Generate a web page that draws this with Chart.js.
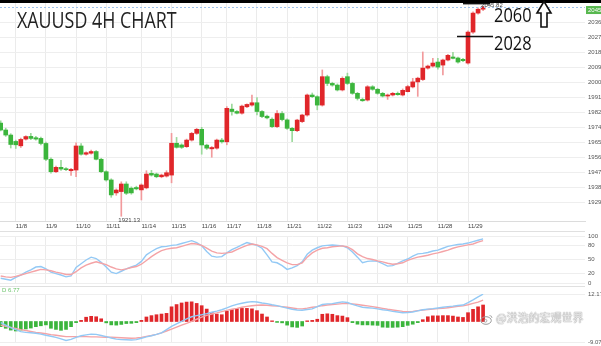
<!DOCTYPE html>
<html>
<head>
<meta charset="utf-8">
<script src="https://cdn.jsdelivr.net/npm/chart.js@4.4.0/dist/chart.umd.min.js"></script>
<style>
  html, body { margin: 0; padding: 0; background: #fff; }
  #wrap { position: relative; width: 601px; height: 346px; overflow: hidden; background: #fff; }
  canvas { position: absolute; left: 0; }
  #topbar { position: absolute; left: 0; top: 0; width: 601px; height: 3px; background: #000; }
  .sep { position: absolute; left: 0; width: 585px; height: 1px; background: #e0e0e0; }
  .big { position: absolute; font-family: 'Open Sans'; line-height: 1; white-space: nowrap; transform-origin: 0 0; }
  #title { left: 17px; top: 9.7px; font-size: 21px; color: #222; transform: scaleX(0.85); }
  #t2060 { left: 494px; top: 4.8px; font-size: 20px; color: #111; transform: scaleX(0.82); }
  #t2028 { left: 494px; top: 33.2px; font-size: 20px; color: #111; transform: scaleX(0.82); }
  #dval { position: absolute; left: 2px; top: 287px; font: 6px 'Liberation Sans'; color: #6cc46c; white-space: nowrap; }
  #wm { position: absolute; left: 480px; top: 309px; white-space: nowrap; font-size: 11px;
        font-family: 'Noto Sans CJK SC'; color: rgba(255,255,255,0.85);
        text-shadow: 0 0 1px #8a8a8a, 0 0 1px #8a8a8a; line-height: 16px; }
  #wm svg { vertical-align: -3px; margin-right: 3px; }
</style>
</head>
<body>
<div id="wrap">
  <canvas id="price" width="601" height="232" style="top:0"></canvas>
  <canvas id="stoch" width="601" height="54" style="top:232px"></canvas>
  <canvas id="macd" width="601" height="60" style="top:286px"></canvas>
  <div id="topbar"></div>
  <div class="sep" style="top:231px"></div>
  <div class="sep" style="top:286px"></div>
  <div id="title" class="big">XAUUSD 4H CHART</div>
  <div id="t2060" class="big">2060</div>
  <div id="t2028" class="big">2028</div>
  <svg style="position:absolute;left:535px;top:0" width="18" height="30">
    <polygon points="9,1.5 2,13 6,13 6,27 12,27 12,13 16,13" fill="#fff" stroke="#111" stroke-width="1.6" stroke-linejoin="miter"/>
  </svg>
  <div id="dval">D 6.77</div>
  <div id="wm"><svg width="13" height="11" viewBox="0 0 13 11"><ellipse cx="6" cy="6.5" rx="5.3" ry="3.8" fill="none" stroke="#9a9a9a" stroke-width="1"/><circle cx="5.5" cy="6.8" r="1.4" fill="none" stroke="#9a9a9a" stroke-width="0.8"/><path d="M9.5 1.5 a2.5 2.5 0 0 1 2.5 2.5" fill="none" stroke="#9a9a9a" stroke-width="0.8"/></svg>@洪浩的宏观世界</div>
</div>
<script>
// ---- 4-hour candles, XAUUSD ----
const open = [1976.5,1972.4,1969.4,1965.6,1963.0,1967.0,1968.6,1967.8,1967.4,1964.4,
  1955.0,1947.6,1950.2,1949.4,1948.2,1948.6,1962.9,1958.0,1958.6,1959.6,
  1955.0,1947.6,1942.7,1935.0,1935.8,1940.3,1937.8,1938.2,1936.8,1938.0,
  1946.6,1946.2,1944.6,1945.0,1945.6,1964.5,1963.5,1962.5,1966.4,1970.4,
  1972.8,1963.4,1961.2,1961.6,1966.4,1965.4,1984.8,1983.4,1982.4,1986.2,
  1987.2,1988.6,1983.4,1980.6,1978.8,1974.4,1982.2,1978.4,1973.4,1972.0,
  1977.4,1981.3,1993.2,1992.2,1987.2,2004.1,2000.1,1999.1,1996.2,2004.1,
  2000.1,1994.2,1990.6,1990.2,1998.1,1996.6,1994.2,1992.6,1993.2,1994.2,
  1993.2,1995.2,1998.0,2001.0,2002.4,2009.2,2010.4,2012.8,2011.0,2014.0,
  2015.8,2015.2,2014.4,2012.2,2030.6,2041.9,2044.2];
const high = [1977.8,1973.5,1970.2,1966.4,1967.6,1969.0,1970.4,1968.6,1968.2,1965.2,
  1955.8,1951.0,1954.4,1950.0,1949.6,1964.8,1964.4,1959.4,1960.4,1960.2,
  1955.6,1948.2,1943.4,1937.4,1941.6,1941.6,1938.6,1939.0,1940.4,1948.2,
  1948.4,1946.8,1946.2,1948.2,1970.4,1968.0,1964.2,1967.0,1971.0,1973.4,
  1974.0,1964.0,1962.6,1967.0,1967.4,1986.3,1987.8,1984.0,1987.2,1988.0,
  1993.2,1991.6,1984.0,1981.2,1979.6,1984.0,1983.4,1979.0,1974.0,1978.8,
  1981.8,1993.8,1994.4,1992.8,2008.1,2005.0,2000.8,1999.8,2004.0,2006.2,
  2000.8,1994.8,1991.4,1998.8,1998.8,1997.2,1994.8,1993.8,1994.8,1995.0,
  1996.8,1999.0,2003.1,2003.8,2018.8,2011.0,2015.0,2015.0,2014.6,2017.4,
  2018.6,2015.8,2015.0,2031.4,2042.6,2045.0,2045.82];
const low = [1971.8,1968.6,1961.7,1961.4,1962.0,1966.4,1966.6,1966.4,1963.6,1954.2,
  1946.8,1947.0,1948.4,1948.2,1945.4,1944.6,1957.4,1957.4,1958.0,1954.6,
  1947.0,1942.0,1932.4,1933.6,1921.13,1934.0,1934.2,1936.8,1930.8,1937.4,
  1945.0,1944.0,1944.0,1944.4,1941.0,1961.6,1961.4,1962.0,1965.8,1969.8,
  1958.0,1960.8,1956.2,1961.0,1964.6,1963.6,1981.2,1982.0,1981.8,1985.6,
  1986.6,1981.4,1979.8,1979.0,1973.8,1973.8,1977.8,1972.8,1965.4,1971.4,
  1976.8,1980.6,1991.6,1984.4,1986.6,1998.8,1998.4,1995.6,1995.6,1999.4,
  1993.6,1990.2,1989.4,1989.6,1996.0,1993.6,1992.0,1990.6,1992.6,1993.0,
  1992.6,1995.0,1997.4,1992.4,2001.8,2008.6,2009.8,2008.6,2005.2,2013.4,
  2014.6,2012.2,2013.0,2011.6,2029.8,2041.2,2043.4];
const close = [1972.4,1969.4,1963.8,1963.6,1966.8,1968.5,1967.4,1967.0,1964.4,1955.0,
  1947.6,1950.2,1949.2,1948.8,1949.0,1962.9,1958.0,1958.9,1959.6,1955.0,
  1947.6,1942.7,1933.8,1936.7,1940.3,1934.8,1935.0,1937.4,1939.7,1946.2,
  1945.6,1944.6,1945.6,1947.0,1964.5,1962.1,1962.1,1966.4,1970.4,1972.8,
  1963.5,1961.6,1962.0,1966.4,1965.4,1985.3,1983.4,1982.4,1986.6,1987.6,
  1988.6,1983.4,1980.4,1979.6,1974.4,1982.2,1978.6,1973.4,1972.0,1978.3,
  1981.3,1993.2,1992.2,1987.2,2004.1,2000.1,1999.1,1996.2,2003.1,2000.1,
  1994.2,1991.2,1989.8,1998.1,1996.6,1994.2,1992.6,1993.2,1994.2,1993.4,
  1996.0,1998.2,2001.0,2003.2,2009.2,2010.4,2012.2,2009.8,2014.0,2016.8,
  2015.0,2012.8,2013.6,2030.6,2041.9,2044.2,2045.5];

// first candle of each trading day and its label
const dayStart  = [3, 9, 15, 21, 28, 34, 40, 45, 51, 57, 63, 69, 75, 81, 87, 93];
const dayLabels = ['11/8','11/9','11/10','11/11','11/14','11/15','11/16','11/17',
                   '11/18','11/21','11/22','11/23','11/24','11/25','11/28','11/29'];

// right-hand price ticks
const priceTicks = [1929.5, 1938.4, 1947.3, 1956.2, 1965.1, 1974.0, 1982.9,
                    1991.8, 2000.7, 2009.6, 2018.5, 2027.4, 2036.3];

// stochastic %K / %D
const stochK = [10,8,6,12,17,23,28,34,35,30,
  23,20,17,13,15,33,41,49,55,52,
  44,34,23,20,25,30,34,38,46,60,
  67,73,77,78,80,81,84,87,90,86,
  79,67,57,55,56,64,71,76,81,86,
  83,80,74,60,45,43,37,29,32,37,
  45,61,70,75,79,80,81,80,79,75,
  66,55,43,46,47,46,41,36,37,42,
  47,51,57,62,63,65,68,70,74,78,
  80,82,83,85,88,91,94];
const stochD = [15,13,12,14,17,20,23,26,29,28,
  26,23,21,18,18,24,32,38,42,45,
  42,39,34,30,28,30,33,35,40,48,
  56,63,69,72,74,75,78,81,84,83,
  80,74,68,64,63,64,66,71,76,80,
  83,81,78,73,63,54,48,43,39,39,
  43,55,64,70,74,75,77,78,79,77,
  71,62,56,52,50,47,45,42,40,41,
  43,48,52,55,57,59,62,64,67,70,
  74,77,79,81,83,87,90];
const stochTicks = [0, 20, 50, 80, 100];

// MACD histogram, MACD line, signal line
const macdHist = [-2.3,-3.0,-3.8,-4.2,-3.8,-3.3,-2.9,-2.3,-1.9,-1.5,
  -3.0,-3.5,-3.9,-3.5,-2.3,-0.5,0.5,1.9,2.3,2.1,
  1.2,-0.6,-1.5,-1.6,-1.3,-0.9,-0.8,-0.5,0.5,2.0,
  2.6,3.0,3.3,3.6,6.5,7.5,8.2,8.6,8.7,8.0,
  7.0,5.5,4.0,3.3,3.0,4.5,5.3,5.7,5.8,5.8,
  5.6,4.8,3.3,2.0,0.3,-0.4,-0.6,-1.6,-2.4,-2.6,
  -2.0,0.3,0.5,1.0,3.2,3.4,3.2,2.6,2.4,1.7,
  -0.5,-1.2,-1.5,-1.5,-1.6,-1.7,-2.5,-2.6,-2.6,-2.5,
  -2.3,-1.7,-1.2,-0.5,0.8,2.1,2.5,2.5,2.6,2.6,
  2.4,2.0,1.8,3.9,5.4,6.5,7.3];
const macdLine = [-0.5,-1.6,-2.7,-3.6,-4.5,-4.8,-5.0,-5.2,-5.6,-6.1,
  -6.5,-7.0,-7.7,-8.4,-7.9,-7.0,-6.3,-5.9,-5.6,-5.7,
  -6.2,-6.7,-7.3,-7.8,-8.0,-8.1,-8.2,-8.0,-7.4,-6.8,
  -6.3,-5.7,-5.0,-3.6,-2.2,-1.0,0.1,1.2,2.1,2.6,
  3.0,3.5,4.1,4.6,5.2,6.0,6.9,7.6,8.1,8.5,
  8.8,8.6,8.2,7.9,7.4,7.0,6.5,5.9,5.4,5.1,
  5.0,5.3,5.6,6.6,7.5,7.8,7.9,8.3,8.7,8.4,
  7.6,6.9,6.3,6.1,5.9,5.6,5.2,4.9,4.5,4.2,
  3.9,4.0,4.2,4.7,5.2,5.5,5.7,6.0,6.3,6.6,
  6.8,7.1,7.3,8.4,9.6,10.9,12.1];
const signalLine = [-1.6,-2.1,-2.6,-3.1,-3.6,-4.0,-4.4,-4.8,-5.1,-5.4,
  -5.8,-6.1,-6.4,-6.7,-6.7,-6.7,-6.7,-6.7,-6.8,-6.8,
  -6.9,-7.0,-7.0,-7.1,-7.2,-7.3,-7.4,-7.3,-7.0,-6.6,
  -6.2,-5.7,-5.0,-4.2,-3.4,-2.5,-1.6,-0.8,0.1,1.0,
  1.9,2.7,3.3,3.8,4.4,4.9,5.4,5.8,6.3,6.7,
  7.0,7.2,7.3,7.2,7.0,6.8,6.6,6.3,6.0,5.7,
  5.6,5.9,6.3,6.6,7.0,7.3,7.5,7.7,7.9,8.0,
  7.8,7.5,7.2,6.9,6.6,6.2,5.8,5.4,5.1,4.8,
  4.5,4.3,4.5,4.8,5.1,5.3,5.5,5.7,5.8,6.1,
  6.4,6.7,6.9,7.4,8.0,8.6,9.5];
const macdTicks = [-9.07, 12.17];

// annotated levels
const targetLevel = 2060;
const breakLevel = 2028;

// ---- drawing ----
Chart.defaults.font.family = "'Liberation Sans', Arial, sans-serif";
Chart.defaults.font.size = 6;
Chart.defaults.color = '#444';

const RED = '#e0262a', GREEN = '#3bb53c', RED_WICK = '#f29a9c', GREEN_WICK = '#9cd99c';
const BLUE_LINE = '#93c9f5', PINK_LINE = '#f4a3a6';
const X_MIN = -0.139, X_MAX = 116.28;
const idx = close.map((_, i) => i);
const isUp = i => close[i] >= open[i];
const series = arr => arr.map((v, i) => ({ x: i, y: v }));

function zeroPad(s) { s.paddingLeft = 0; s.paddingRight = 0; s.paddingTop = 0; s.paddingBottom = 0; }

function xScale(withLabels) {
  return {
    type: 'linear', min: X_MIN, max: X_MAX, offset: false,
    afterBuildTicks: s => { s.ticks = dayStart.map(v => ({ value: v })); },
    ticks: { display: withLabels, autoSkip: false, maxRotation: 0, minRotation: 0, align: 'start',
             padding: 2, color: '#444', font: { size: 6 }, callback: (v, i) => dayLabels[i] },
    grid: { offset: false, color: '#ebebeb', lineWidth: 1, drawTicks: false },
    border: { display: withLabels, color: '#dcdcdc' },
    afterFit: s => { s.height = withLabels ? 11 : 0; zeroPad(s); }
  };
}
function yScale(min, max, ticks, fmt) {
  return {
    position: 'right', min, max,
    afterBuildTicks: s => { s.ticks = ticks.map(v => ({ value: v })); },
    ticks: { padding: 3, color: '#555', font: { size: 6 }, callback: fmt },
    grid: { color: '#eeeeee', lineWidth: 1, drawTicks: false },
    border: { display: false },
    afterFit: s => { s.width = 16; zeroPad(s); }
  };
}
const base = {
  responsive: false, maintainAspectRatio: false, animation: false, devicePixelRatio: 1, events: [],
  plugins: { legend: { display: false }, tooltip: { enabled: false } }
};

// labels, current-price line and hand-drawn levels on the price panel
const priceMarks = {
  id: 'priceMarks',
  afterDatasetsDraw(chart) {
    const { ctx, chartArea: a, scales: { x, y } } = chart;
    const last = close.length - 1;
    const yl = Math.round(y.getPixelForValue(close[last])) + 0.5;
    ctx.save();
    ctx.strokeStyle = '#9fc3ec'; ctx.lineWidth = 1; ctx.setLineDash([2, 2]);
    ctx.beginPath(); ctx.moveTo(a.left, yl); ctx.lineTo(a.right, yl); ctx.stroke();
    ctx.setLineDash([]);

    ctx.font = "6px 'Liberation Sans'"; ctx.fillStyle = '#444';
    const lo = low.indexOf(Math.min(...low));
    ctx.textAlign = 'left'; ctx.textBaseline = 'top';
    ctx.fillText(low[lo].toFixed(2), x.getPixelForValue(lo) - 3, y.getPixelForValue(low[lo]) + 1);
    const hi = high.indexOf(Math.max(...high));
    ctx.textBaseline = 'middle';
    ctx.fillText(high[hi].toFixed(2), x.getPixelForValue(hi) - 2, y.getPixelForValue(high[hi]) - 1.5);

    // hand-drawn level marks
    ctx.strokeStyle = '#111'; ctx.lineWidth = 1.4;
    const yb = y.getPixelForValue(breakLevel);
    const xb = x.getPixelForValue(dayStart[dayStart.length - 1]);
    ctx.beginPath(); ctx.moveTo(xb - 11, yb); ctx.lineTo(xb + 25, yb); ctx.stroke();
    const yt = Math.max(y.getPixelForValue(targetLevel), a.top + 0.7);
    ctx.beginPath(); ctx.moveTo(xb - 5, yt); ctx.lineTo(xb + 22, yt); ctx.stroke();
    ctx.restore();
  },
  afterDraw(chart) {
    const { ctx, chartArea: a, scales: { y } } = chart;
    const last = close.length - 1;
    const yl = y.getPixelForValue(close[last]);
    ctx.save();
    ctx.fillStyle = '#58b84f';
    ctx.fillRect(a.right + 1, yl - 1, 20, 8);
    ctx.fillStyle = '#fff'; ctx.font = "6px 'Liberation Sans'";
    ctx.textAlign = 'left'; ctx.textBaseline = 'middle';
    ctx.fillText(close[last].toFixed(2), a.right + 3, yl + 3);
    ctx.restore();
  }
};

new Chart(document.getElementById('price'), {
  type: 'bar',
  data: { datasets: [
    { data: idx.map(i => ({ x: i, y: [low[i], high[i]] })), barThickness: 1, grouped: false, order: 2,
      backgroundColor: c => isUp(c.dataIndex) ? RED_WICK : GREEN_WICK },
    { data: idx.map(i => ({ x: i, y: [open[i], close[i]] })), barThickness: 4, minBarLength: 1, grouped: false, order: 1,
      backgroundColor: c => isUp(c.dataIndex) ? RED : GREEN }
  ]},
  options: Object.assign({}, base, {
    layout: { padding: { top: 3, left: 0, right: 0, bottom: 0 } },
    scales: { x: xScale(true), y: yScale(1918.3, 2047.9, priceTicks, v => v.toFixed(2)) }
  }),
  plugins: [priceMarks]
});

new Chart(document.getElementById('stoch'), {
  type: 'line',
  data: { datasets: [
    { data: series(stochD), borderColor: PINK_LINE, borderWidth: 1.4, pointRadius: 0, tension: 0 },
    { data: series(stochK), borderColor: BLUE_LINE, borderWidth: 1.4, pointRadius: 0, tension: 0 }
  ]},
  options: Object.assign({}, base, {
    layout: { padding: { top: 4, left: 0, right: 0, bottom: 3 } },
    scales: { x: xScale(false), y: yScale(0, 100, stochTicks, v => String(v)) }
  })
});

new Chart(document.getElementById('macd'), {
  type: 'bar',
  data: { datasets: [
    { type: 'line', data: series(signalLine), borderColor: PINK_LINE, borderWidth: 1.4, pointRadius: 0, tension: 0, order: 1 },
    { type: 'line', data: series(macdLine), borderColor: BLUE_LINE, borderWidth: 1.4, pointRadius: 0, tension: 0, order: 0 },
    { data: series(macdHist), barThickness: 3, order: 2,
      backgroundColor: c => macdHist[c.dataIndex] >= 0 ? RED : GREEN }
  ]},
  options: Object.assign({}, base, {
    layout: { padding: { top: 8, left: 0, right: 0, bottom: 4 } },
    scales: { x: xScale(false), y: yScale(-9.07, 12.17, macdTicks, v => v.toFixed(2)) }
  })
});
</script>
</body>
</html>
